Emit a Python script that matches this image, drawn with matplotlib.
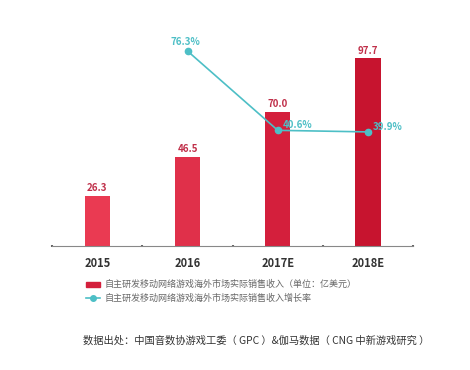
import matplotlib
matplotlib.use('Agg')
import matplotlib.pyplot as plt
from matplotlib.patches import Patch
from matplotlib.lines import Line2D

plt.rcParams['font.family'] = ['Noto Sans CJK SC', 'DejaVu Sans']

years = ['2015', '2016', '2017E', '2018E']
revenue = [26.3, 46.5, 70.0, 97.7]
growth_years = ['2016', '2017E', '2018E']
growth = [76.3, 40.6, 39.9]
bar_colors = ['#ea3a52', '#e0304a', '#d41f3c', '#c7142f']
legend_labels = ['自主研发移动网络游戏海外市场实际销售收入（单位：亿美元）',
                 '自主研发移动网络游戏海外市场实际销售收入增长率']
source = '数据出处：中国音数协游戏工委（ GPC ）&伽马数据（ CNG 中新游戏研究 ）'

fig = plt.figure(figsize=(4.7, 3.7), dpi=100)
ax = fig.add_axes([0.111, 0.335, 0.768, 0.584])
x = list(range(len(years)))
ax.bar(x, revenue, width=0.28, color=bar_colors, zorder=2)
for xi, v in zip(x, revenue):
    ax.text(xi, v + 1.5, f'{v:.1f}', ha='center', va='bottom', fontsize=7,
            fontweight='bold', color='#c0304a')
ax.set_xlim(-0.5, 3.5)
ax.set_ylim(0, 112.5)
ax.set_xticks(x)
ax.set_xticklabels(years, fontsize=8, fontweight='bold', color='#333333')
ax.set_xticks([-0.5, 0.5, 1.5, 2.5, 3.5], minor=True)
ax.tick_params(axis='x', which='major', length=0, pad=8)
ax.tick_params(axis='x', which='minor', length=2, width=1.5, color='#666666', direction='inout')
ax.set_yticks([])
for s in ['top', 'right', 'left']:
    ax.spines[s].set_visible(False)
ax.spines['bottom'].set_color('#888888')
ax.spines['bottom'].set_linewidth(0.8)

ax2 = ax.twinx()
gx = [years.index(y) for y in growth_years]
ax2.plot(gx, growth, color='#4dbfc6', lw=1.2, marker='o', ms=4.5, zorder=3)
ax2.set_ylim(-11.5, 85.8)
ax2.axis('off')
for xi, v in zip(gx, growth):
    if xi == 1:
        ax2.text(xi - 0.02, v + 2, f'{v}%', ha='center', va='bottom', fontsize=7,
                 fontweight='bold', color='#4dbfc6')
    else:
        ax2.text(xi + 0.05, v, f'{v}%', ha='left', va='bottom', fontsize=7,
                 fontweight='bold', color='#4dbfc6')

handles = [Patch(color='#d41f3c'),
           Line2D([0], [0], color='#4dbfc6', lw=1.2, marker='o', ms=4)]
fig.legend(handles, legend_labels, loc='upper left', bbox_to_anchor=(0.165, 0.265),
           frameon=False, fontsize=6.5, labelcolor='#666666', handlelength=1.6,
           handleheight=0.5, labelspacing=0.45, handletextpad=0.5)

fig.text(0.177, 0.08, source, fontsize=7.4, color='#333333', ha='left', va='center')

fig.savefig('out.png', dpi=100, facecolor='white')
